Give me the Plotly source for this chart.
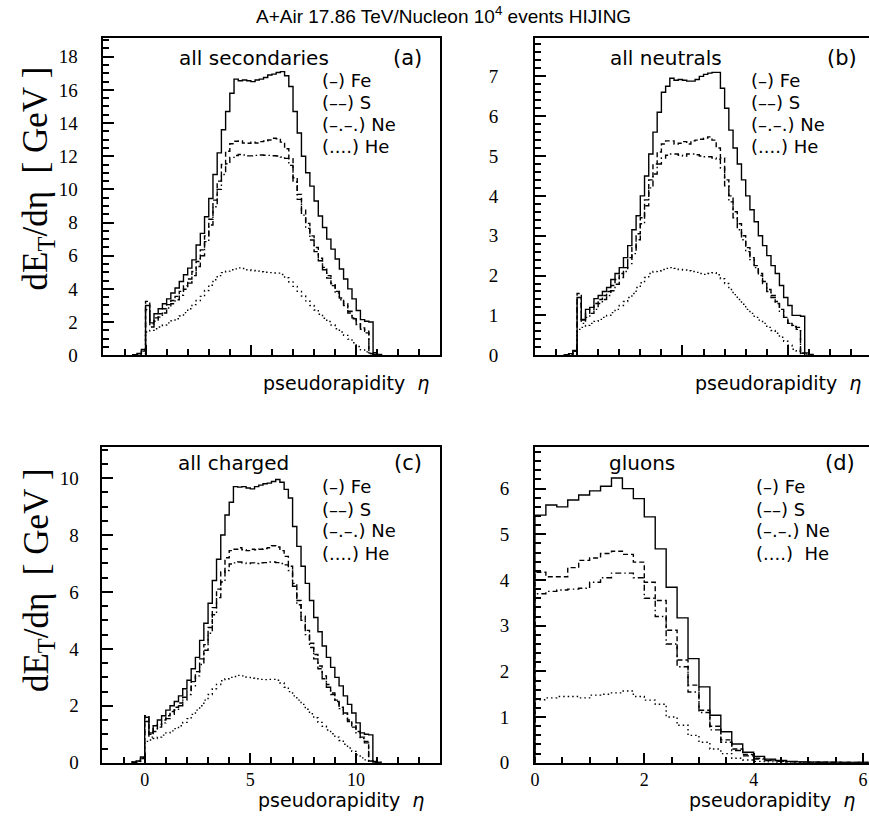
import numpy as np
import plotly.graph_objects as go

W, H = 869, 831

# ---------------- data ----------------
BIN_W = 0.2
ETA_START_ABC = -0.6   # first bin left edge for panels a, b, c
ETA_START_D = 0.0      # first bin left edge for panel d

# (a) all secondaries
FE_A = [0.03, 0.1, 0.35,
        3.0, 1.95, 2.5, 2.8, 3.1, 3.4, 3.75, 4.05, 4.45, 4.85, 5.25, 5.75, 6.65, 7.35, 8.35, 9.45,
        10.9, 12.2, 13.6, 14.7, 15.8, 16.65, 16.55, 16.6, 16.55, 16.5, 16.6, 16.65, 16.75, 16.9,
        16.95, 17.05, 17.1, 16.85, 16.2, 14.7, 13.4, 12.0, 11.0, 10.2, 9.3, 8.4, 7.7, 7.0, 6.4,
        5.8, 5.2, 4.6, 4.0, 3.4, 2.7, 2.15, 2.05, 2.0, 0.15, 0.05]
S_A = [0.03, 0.08, 0.28,
       3.25, 1.9, 2.25, 2.5, 2.8, 3.05, 3.3, 3.55, 3.85, 4.2, 4.6, 5.05, 5.65, 6.35, 7.2, 8.2,
       9.35, 10.5, 11.5, 12.3, 12.75, 12.9, 12.92, 12.8, 12.78, 12.85, 12.8, 12.88, 12.92, 12.98,
       13.08, 13.05, 12.85, 12.45, 11.85, 10.7, 9.7, 8.75, 7.95, 7.2, 6.5, 5.85, 5.3, 4.8, 4.3,
       3.85, 3.45, 3.1, 2.65, 2.25, 1.9, 1.65, 1.45, 0.1, 0.04, 0.02]
NE_A = [0.03, 0.08, 0.25,
        2.75, 1.7, 2.05, 2.3, 2.55, 2.85, 3.1, 3.35, 3.62, 3.98, 4.35, 4.8, 5.35, 6.0, 6.85, 7.85,
        8.95, 10.0, 10.9, 11.55, 11.93, 12.04, 12.1, 12.07, 12.02, 12.02, 12.05, 12.07, 12.06, 12.05,
        12.03, 12.01, 11.95, 11.87, 11.45, 10.45, 9.4, 8.45, 7.65, 6.95, 6.25, 5.7, 5.15, 4.65, 4.2,
        3.75, 3.35, 3.0, 2.55, 2.2, 1.85, 1.57, 1.35, 0.09, 0.04, 0.02]
HE_A = [0.0, 0.02, 0.1,
        1.4, 1.5, 1.6, 1.7, 1.82, 1.95, 2.07, 2.2, 2.37, 2.57, 2.8, 3.05, 3.3, 3.55, 3.9, 4.22,
        4.55, 4.8, 4.98, 5.07, 5.15, 5.21, 5.27, 5.23, 5.15, 5.11, 5.07, 5.03, 5.0, 4.98,
        4.96, 4.95, 4.87, 4.67, 4.42, 4.15, 3.85, 3.57, 3.28, 3.0, 2.73, 2.47, 2.23, 2.03, 1.82,
        1.6, 1.4, 1.2, 0.97, 0.75, 0.53, 0.32, 0.2, 0.11, 0.05, 0.02]

# (b) all neutrals
FE_B = [0.01, 0.04, 0.12,
        1.45, 0.9, 1.15, 1.2, 1.42, 1.5, 1.6, 1.7, 1.9, 2.05, 2.2, 2.45, 2.75, 3.15, 3.5, 4.0,
        4.5, 5.05, 5.6, 6.1, 6.6, 6.75, 6.95, 6.9, 6.92, 6.9, 6.88, 6.88, 6.92, 7.0,
        7.05, 7.08, 7.1, 7.1, 6.7, 6.2, 5.65, 5.2, 4.8, 4.4, 4.0, 3.65, 3.35, 3.0, 2.75,
        2.5, 2.25, 2.05, 1.75, 1.45, 1.25, 1.0, 1.0, 0.98, 0.06, 0.02]
S_B = [0.01, 0.03, 0.1,
       1.55, 0.88, 1.05, 1.15, 1.3, 1.4, 1.5, 1.6, 1.75, 1.9, 2.05, 2.2, 2.45, 2.7, 3.05, 3.45,
       3.9, 4.4, 4.8, 5.1, 5.3, 5.38, 5.38, 5.3, 5.32, 5.36, 5.3, 5.38, 5.4, 5.42,
       5.45, 5.48, 5.4, 5.2, 4.95, 4.4, 4.0, 3.6, 3.3, 3.0, 2.7, 2.45, 2.25, 2.05, 1.85,
       1.65, 1.5, 1.35, 1.15, 0.95, 0.8, 0.75, 0.7, 0.05, 0.02, 0.01]
NE_B = [0.01, 0.03, 0.1,
        1.3, 0.8, 0.95, 1.05, 1.15, 1.3, 1.4, 1.5, 1.62, 1.78, 1.95, 2.1, 2.3, 2.55, 2.9, 3.3,
        3.75, 4.2, 4.55, 4.8, 4.95, 5.02, 5.05, 5.05, 5.02, 5.0, 5.05, 5.05, 5.03, 5.0,
        4.98, 4.98, 4.95, 4.92, 4.7, 4.25, 3.85, 3.45, 3.15, 2.9, 2.6, 2.4, 2.2, 2.0, 1.8,
        1.6, 1.45, 1.3, 1.1, 0.95, 0.8, 0.72, 0.65, 0.04, 0.02, 0.01]
HE_B = [0.0, 0.01, 0.05,
        0.65, 0.7, 0.75, 0.8, 0.85, 0.9, 0.95, 1.0, 1.07, 1.15, 1.25, 1.35, 1.45, 1.55, 1.7, 1.82,
        1.95, 2.05, 2.1, 2.12, 2.15, 2.18, 2.2, 2.18, 2.15, 2.14, 2.12, 2.1, 2.08, 2.05,
        2.03, 2.05, 2.07, 2.02, 1.92, 1.8, 1.65, 1.52, 1.4, 1.28, 1.15, 1.05, 0.95, 0.88, 0.8,
        0.7, 0.62, 0.55, 0.45, 0.35, 0.25, 0.15, 0.1, 0.06, 0.03, 0.01]

# (c) all charged
FE_C = [0.02, 0.06, 0.2,
        1.6, 1.05, 1.3, 1.5, 1.65, 1.85, 2.0, 2.15, 2.35, 2.6, 2.9, 3.3, 3.7, 4.3, 4.9, 5.6,
        6.4, 7.15, 8.0, 8.7, 9.15, 9.7, 9.68, 9.7, 9.65, 9.62, 9.7, 9.75, 9.8, 9.82,
        9.88, 9.95, 9.85, 9.6, 9.3, 8.3, 7.6, 6.9, 6.3, 5.7, 5.1, 4.6, 4.1, 3.7, 3.35,
        3.0, 2.7, 2.35, 2.05, 1.75, 1.4, 1.05, 1.0, 0.98, 0.05, 0.01]
S_C = [0.02, 0.05, 0.18,
       1.65, 1.0, 1.2, 1.35, 1.5, 1.65, 1.8, 1.95, 2.1, 2.3, 2.55, 2.85, 3.2, 3.65, 4.15, 4.75,
       5.45, 6.1, 6.7, 7.2, 7.45, 7.5, 7.55, 7.48, 7.45, 7.5, 7.48, 7.5, 7.52, 7.55,
       7.62, 7.58, 7.45, 7.25, 6.9, 6.3, 5.7, 5.15, 4.65, 4.2, 3.8, 3.4, 3.05, 2.75, 2.45,
       2.2, 1.95, 1.75, 1.5, 1.3, 1.1, 0.9, 0.75, 0.06, 0.02, 0.01]
NE_C = [0.02, 0.05, 0.15,
        1.45, 0.9, 1.1, 1.25, 1.4, 1.55, 1.7, 1.85, 2.0, 2.2, 2.4, 2.7, 3.05, 3.45, 3.95, 4.55,
        5.2, 5.8, 6.35, 6.75, 6.98, 7.02, 7.05, 7.02, 7.0, 7.02, 7.0, 7.02, 7.03, 7.05,
        7.05, 7.03, 7.0, 6.95, 6.75, 6.2, 5.55, 5.0, 4.5, 4.05, 3.65, 3.3, 2.95, 2.65, 2.4,
        2.15, 1.9, 1.7, 1.45, 1.25, 1.05, 0.85, 0.7, 0.05, 0.02, 0.01]
HE_C = [0.0, 0.01, 0.05,
        0.75, 0.8, 0.85, 0.9, 0.97, 1.05, 1.12, 1.2, 1.3, 1.42, 1.55, 1.7, 1.85, 2.0, 2.2, 2.4,
        2.6, 2.75, 2.88, 2.95, 3.0, 3.03, 3.07, 3.05, 3.0, 2.97, 2.95, 2.93, 2.92, 2.93,
        2.93, 2.9, 2.8, 2.65, 2.5, 2.35, 2.2, 2.05, 1.88, 1.72, 1.58, 1.42, 1.28, 1.15, 1.02,
        0.9, 0.78, 0.65, 0.52, 0.4, 0.28, 0.17, 0.1, 0.05, 0.02, 0.01]

# (d) gluons (bins of 0.2 from eta = 0)
FE_D = [5.42, 5.64, 5.6, 5.75, 5.86, 5.95, 6.05, 6.23, 6.0, 5.78, 5.38, 4.68, 3.84, 3.17, 2.28,
        1.66, 1.04, 0.68, 0.41, 0.23, 0.14, 0.08, 0.05, 0.03, 0.02, 0.015, 0.01, 0.01, 0.005,
        0.005, 0.005]
S_D = [4.17, 4.07, 4.07, 4.27, 4.43, 4.48, 4.58, 4.63, 4.56, 4.39, 3.95, 3.55, 2.9, 2.25, 1.7,
       1.15, 0.8, 0.5, 0.3, 0.18, 0.1, 0.06, 0.04, 0.02, 0.015, 0.01, 0.01, 0.005, 0.005,
       0.005, 0.005]
NE_D = [3.7, 3.75, 3.78, 3.8, 3.82, 3.95, 4.05, 4.15, 4.15, 4.05, 3.6, 3.2, 2.6, 2.1, 1.55,
        1.1, 0.72, 0.45, 0.27, 0.15, 0.08, 0.05, 0.03, 0.02, 0.01, 0.01, 0.005, 0.005, 0.005,
        0.005, 0.005]
HE_D = [1.38, 1.42, 1.45, 1.45, 1.42, 1.48, 1.5, 1.53, 1.57, 1.45, 1.37, 1.28, 1.0, 0.82, 0.6,
        0.45, 0.3, 0.2, 0.1, 0.06, 0.03, 0.02, 0.01, 0.01, 0.005, 0.005, 0.0, 0.0, 0.0,
        0.0, 0.0]

SPECIES = ["Fe", "S", "Ne", "He"]
LEGEND_TEXT = ["(\u2013) Fe", "(\u2013\u2013) S", "(\u2013.\u2013.) Ne", "(....) He"]
LEGEND_TEXT_D = ["(\u2013) Fe", "(\u2013\u2013) S", "(\u2013.\u2013.) Ne", "(....)\u00a0 He"]
PANEL_NAMES = ["all secondaries", "all neutrals", "all charged", "gluons"]
PANEL_TAGS = ["(a)", "(b)", "(c)", "(d)"]
TITLE = "A+Air 17.86 TeV/Nucleon 10<sup>4</sup> events HIJING"
Y_TITLE = "dE<sub>T</sub>/d\u03b7\u00a0\u00a0[\u00a0GeV\u00a0]"
X_TITLE = "pseudorapidity\u00a0\u00a0<i>\u03b7</i>"

DATA = [
    (ETA_START_ABC, [FE_A, S_A, NE_A, HE_A]),
    (ETA_START_ABC, [FE_B, S_B, NE_B, HE_B]),
    (ETA_START_ABC, [FE_C, S_C, NE_C, HE_C]),
    (ETA_START_D, [FE_D, S_D, NE_D, HE_D]),
]
for _, group in DATA:
    n = len(group[0])
    for g in group:
        assert len(g) == n, (len(g), n)

# ---------------- styling ----------------
DASHES = ["solid", "5px,3px", "6px,3px,1.5px,3px", "1.5px,3px"]
LW = 1.4
SANS = "DejaVu Sans"
SERIF = "Liberation Serif"


def px(x):
    return x / W


def py(y):
    return 1 - y / H


def step_xy(start, vals):
    vals = np.asarray(vals, dtype=float)
    e = start + BIN_W * np.arange(len(vals) + 1)
    x = np.concatenate([[e[0]], e[:-1], [e[-1]], [e[-1]]])
    y = np.concatenate([[0.0], vals, [vals[-1]], [0.0]])
    return x, y


# panel geometry (pixel boxes) and axis settings
PANELS = [
    dict(box=(99, 39, 438, 360), xr=[-2, 14], yr=[0, 19.1], ydt=2, ymin=0.5,
         xdt=5, xmin=1, xlab=False, rline=True, ystand=20,
         name_x=250, tag_x=405, name_y=59, leg_x=317, leg_y=[82, 104, 126, 148],
         xt_right=428, xt_y=388),
    dict(box=(533, 39, 869, 360), xr=[-2, 13.85], yr=[0, 7.95], ydt=1, ymin=0.2,
         xdt=5, xmin=1, xlab=False, rline=False, ystand=31,
         name_x=665, tag_x=842, name_y=59, leg_x=748, leg_y=[82, 104, 126, 148],
         xt_right=863, xt_y=388),
    dict(box=(98, 453, 438, 773), xr=[-2, 14], yr=[0, 11.09], ydt=2, ymin=0.5,
         xdt=5, xmin=1, xlab=True, rline=True, ystand=18,
         name_x=230, tag_x=405, name_y=469, leg_x=317, leg_y=[493, 516, 538, 561],
         xt_right=423, xt_y=811),
    dict(box=(533, 453, 869, 773), xr=[0, 6.11], yr=[0, 6.91], ydt=1, ymin=0.2,
         xdt=2, xmin=0.5, xlab=True, rline=False, ystand=20,
         name_x=641, tag_x=840, name_y=469, leg_x=753, leg_y=[493, 516, 538, 561],
         xt_right=857, xt_y=811),
]

fig = go.Figure()
layout = dict(width=W, height=H, margin=dict(l=0, r=0, t=0, b=0),
              paper_bgcolor="white", plot_bgcolor="white", showlegend=False)
annotations = []

for i, (p, (start, group)) in enumerate(zip(PANELS, DATA)):
    sfx = "" if i == 0 else str(i + 1)
    x0, y0, x1, y1 = p["box"]
    for k, vals in enumerate(group):
        x, y = step_xy(start, vals)
        fig.add_trace(go.Scatter(x=x, y=y, mode="lines", line_shape="hv",
                                 line=dict(color="black", width=LW, dash=DASHES[k]),
                                 xaxis="x" + sfx, yaxis="y" + sfx,
                                 name=SPECIES[k], hoverinfo="skip"))
    layout["xaxis" + sfx] = dict(
        domain=[px(x0), px(x1)], range=p["xr"], anchor="y" + sfx,
        showline=True, linecolor="black", linewidth=1.8, mirror=True,
        ticks="inside", ticklen=10, tickwidth=2.2, tickcolor="black",
        tick0=0, dtick=p["xdt"], layer="above traces",
        minor=dict(dtick=p["xmin"], ticks="inside", ticklen=6,
                   tickwidth=1.8, tickcolor="black"),
        showgrid=False, zeroline=False, showticklabels=p["xlab"],
        tickfont=dict(family=SERIF, size=18, color="black"))
    layout["yaxis" + sfx] = dict(
        domain=[py(y1), py(y0)], range=p["yr"], anchor="x" + sfx,
        showline=True, linecolor="black", linewidth=1.8, mirror=p["rline"],
        ticks="inside", ticklen=11, tickwidth=2.2, tickcolor="black",
        tick0=0, dtick=p["ydt"], layer="above traces",
        minor=dict(dtick=p["ymin"], ticks="inside", ticklen=6,
                   tickwidth=1.8, tickcolor="black"),
        showgrid=False, zeroline=False, ticklabelstandoff=p["ystand"],
        tickfont=dict(family=SERIF, size=19, color="black"))

    # panel name and tag
    annotations.append(dict(text=PANEL_NAMES[i], x=px(p["name_x"]), y=py(p["name_y"]),
                            xref="paper", yref="paper", showarrow=False,
                            xanchor="center", yanchor="middle",
                            font=dict(family=SANS, size=20, color="black")))
    annotations.append(dict(text=PANEL_TAGS[i], x=px(p["tag_x"]), y=py(p["name_y"]),
                            xref="paper", yref="paper", showarrow=False,
                            xanchor="center", yanchor="middle",
                            font=dict(family=SANS, size=21, color="black")))
    leg = LEGEND_TEXT_D if i == 3 else LEGEND_TEXT
    for k, t in enumerate(leg):
        annotations.append(dict(text=t, x=px(p["leg_x"]), y=py(p["leg_y"][k]),
                                xref="paper", yref="paper", showarrow=False,
                                xanchor="left", yanchor="middle",
                                font=dict(family=SANS, size=18, color="black")))
    # x title
    annotations.append(dict(text=X_TITLE, x=px(p["xt_right"]), y=py(p["xt_y"]),
                            xref="paper", yref="paper", showarrow=False,
                            xanchor="right", yanchor="middle",
                            font=dict(family=SANS, size=19, color="black")))

# y titles
for yc in (181, 588):
    annotations.append(dict(text=Y_TITLE, x=px(33), y=py(yc), xref="paper", yref="paper",
                            showarrow=False, textangle=-90, xanchor="center", yanchor="middle",
                            font=dict(family=SERIF, size=35, color="black")))
# title
annotations.append(dict(text=TITLE, x=px(441), y=py(15), xref="paper", yref="paper",
                        showarrow=False, xanchor="center", yanchor="middle",
                        font=dict(family="Liberation Sans", size=19, color="black")))

layout["annotations"] = annotations
fig.update_layout(**layout)
fig.write_html("out.html")
